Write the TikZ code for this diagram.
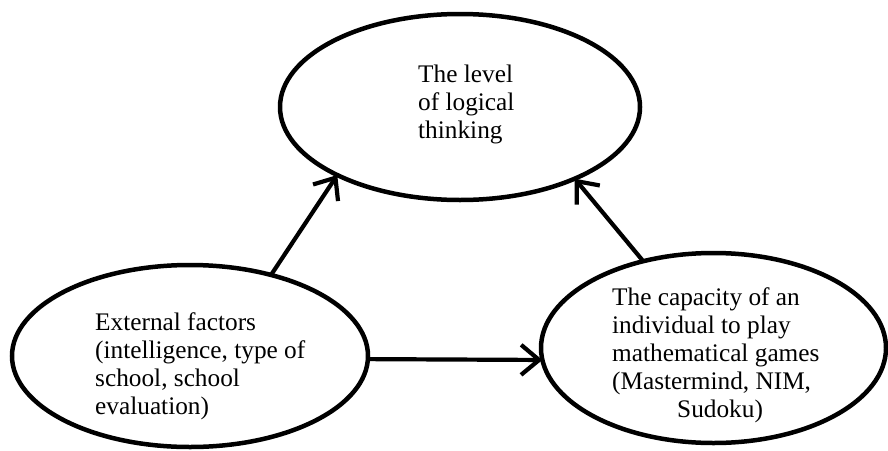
\documentclass[tikz,border=0pt]{standalone}
\usepackage{fontspec}
\setmainfont{Liberation Serif}
\usetikzlibrary{arrows.meta,shapes.geometric}
\begin{document}
\begin{tikzpicture}[x=1pt,y=-1pt,
  oval/.style={draw, ellipse, line width=4.5pt, inner sep=0pt, outer sep=0pt, fill=white},
  txt/.style={align=left, anchor=base west, inner sep=0pt, font=\fontsize{25.3pt}{28.2pt}\selectfont},
  arr/.style={line width=4.2pt, -{Straight Barb[length=18pt,width=30pt,line width=4.2pt]}}]
\fill[white] (0,0) rectangle (888,450);
\useasboundingbox (0,0) rectangle (888,450);
\node[oval, minimum width=360pt, minimum height=186pt] (top) at (460,107) {};
\node[oval, minimum width=356pt, minimum height=182pt] (left) at (190,356) {};
\node[oval, minimum width=345pt, minimum height=190pt] (right) at (713.5,348) {};
\node[txt] (ttop) at (418,138.4) {The level\\of logical\\thinking};
\node[txt] (tleft) at (95,414.6) {External factors\\(intelligence, type of\\school, school\\evaluation)};
\node[txt] (tright) at (612,417.8) {The capacity of an\\individual to play\\mathematical games\\(Mastermind, NIM,\\\hspace*{65pt}Sudoku)};
\draw[arr] (left.45) -- (top.209);
\draw[arr] (right.129.7) -- (top.328.7);
\draw[arr] (left.-1.3) -- (right.184);
\end{tikzpicture}
\end{document}
